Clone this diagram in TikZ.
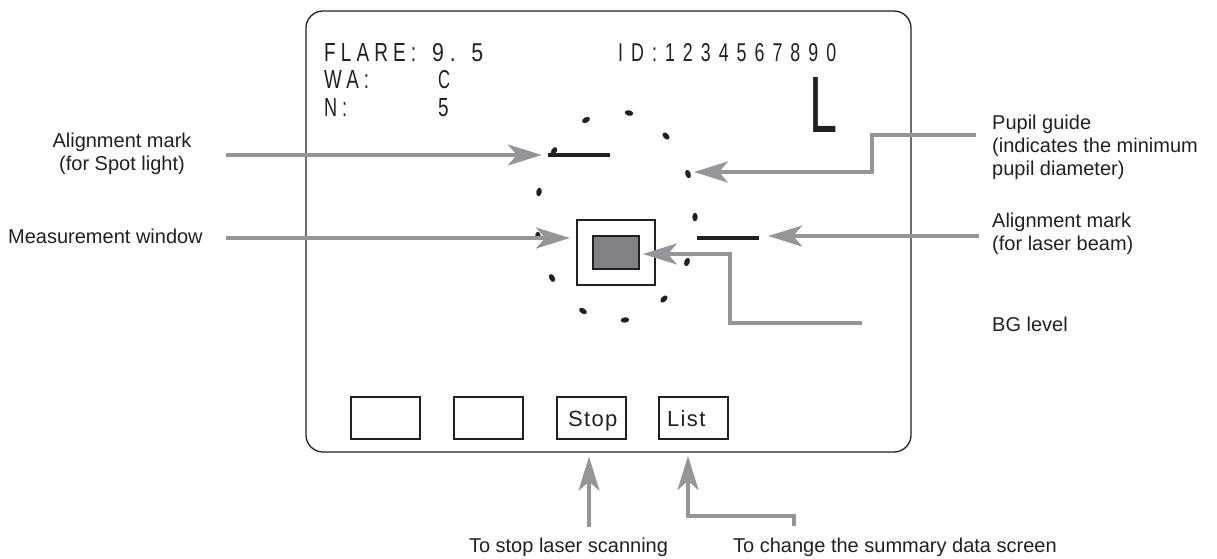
\documentclass[tikz,border=0pt]{standalone}
\usepackage{fontspec}
\setmainfont{Liberation Sans}
\newfontfamily\scrA[LetterSpace=27]{Liberation Sans}
\newfontfamily\scrB[LetterSpace=45]{Liberation Sans}
\newfontfamily\btnfont[LetterSpace=6]{Liberation Sans}
\usetikzlibrary{arrows.meta,calc}
\definecolor{arrowgray}{HTML}{939598}
\definecolor{ink}{HTML}{231F20}
\definecolor{wingray}{HTML}{808184}
\begin{document}
\begin{tikzpicture}[x=1pt,y=-1pt,
  callout/.style={draw=arrowgray, line width=3.6pt, -{Stealth[length=34pt,width=21pt,inset=9pt]}},
  lbl/.style={font=\fontsize{20}{23}\selectfont, text=ink, inner sep=0pt},
  scr/.style={inner sep=0pt, text=ink, anchor=base west},
  btn/.style={draw=ink, line width=2pt, minimum width=69pt, minimum height=42pt, inner sep=0pt},
  btntext/.style={font=\btnfont\fontsize{22}{22}\selectfont, text=ink, inner sep=0pt, anchor=base west},
  alignmark/.style={fill=ink, draw=none, minimum width=62pt, minimum height=3.5pt, inner sep=0pt}]
\useasboundingbox (0,0) rectangle (1217,558);
% screen frame
\node[draw=ink, line width=1.3pt, rounded corners=17pt, minimum width=605pt, minimum height=441pt, inner sep=0pt] (screen) at (608.5,231.5) {};
% screen texts
\node[scr] (flare) at (324,61) {\resizebox{92pt}{18pt}{\scrA FLARE:}};
\node[scr] (flarev) at (432,61) {\resizebox{51pt}{18pt}{\scrA 9. 5}};
\node[scr] (wa) at (324,88) {\resizebox{45pt}{18pt}{\scrA WA:}};
\node[scr] (wav) at (438,88) {\resizebox{12pt}{18pt}{\scrA C}};
\node[scr] (n) at (324,116) {\resizebox{23pt}{18pt}{\scrA N:}};
\node[scr] (nv) at (438,116) {\resizebox{10.5pt}{18pt}{\scrA 5}};
\node[scr] (id) at (618,61) {\resizebox{218pt}{18pt}{\scrB ID:1234567890}};
\node[scr] (eye) at (809,132) {\resizebox{28pt}{55pt}{L}};
% pupil guide dots
\foreach \px/\py [count=\i] in {586/120, 629/113, 666/136, 688/174, 554/151, 539/192, 695/217, 538/236, 687/262, 552/278, 664/299, 583/311, 625/320}{
  \pgfmathsetmacro\ang{atan2((\px-616.5)*1.733, (\py-216.5))}
  \coordinate (dot\i) at (\px,\py);
  \fill[ink, rotate around={\ang:(dot\i)}] (dot\i) ellipse [x radius=4.3pt, y radius=2.7pt];
}
% alignment marks
\node[alignmark] (spotmark) at (579,155) {};
\node[alignmark] (lasermark) at (728,238) {};
% measurement window
\node[draw=ink, line width=2pt, minimum width=78pt, minimum height=65pt, inner sep=0pt] (win) at (616,252.5) {};
\node[draw=ink, fill=wingray, line width=1.8pt, minimum width=46pt, minimum height=33pt, inner sep=0pt] (bg) at (616,252.5) {};
% buttons
\node[btn] (b1) at (385.5,418) {};
\node[btn] (b2) at (488,418) {};
\node[btn] (stopbtn) at (591.5,418) {};
\node[btn] (listbtn) at (693.5,418) {};
\node[btntext] (stoptxt) at (568,426) {Stop};
\node[btntext] (listtxt) at (667,426) {List};
% labels
\node[lbl, anchor=base] (la1) at (122,147) {Alignment mark};
\node[lbl, anchor=base] (la2) at (122,170) {(for Spot light)};
\node[lbl, anchor=base west] (lm) at (8,243) {Measurement window};
\node[lbl, anchor=base west] (lp1) at (992,129) {Pupil guide};
\node[lbl, anchor=base west] (lp2) at (992,152) {(indicates the minimum};
\node[lbl, anchor=base west] (lp3) at (992,175) {pupil diameter)};
\node[lbl, anchor=base west] (ll1) at (992,227) {Alignment mark};
\node[lbl, anchor=base west] (ll2) at (992,250) {(for laser beam)};
\node[lbl, anchor=base west] (lbg) at (992,331) {BG level};
\node[lbl, anchor=base] (lstop) at (568.5,552) {To stop laser scanning};
\node[lbl, anchor=base west] (llist) at (733,552) {To change the summary data screen};
% arrow tails
\coordinate (spotTail) at (226,155);
\coordinate (measTail) at (226,238);
\coordinate (pupilTail) at (976,135);
\coordinate (laserTail) at (979,236);
\coordinate (bgTail) at (862,323);
\coordinate (stopTail) at (589,527);
\coordinate (listTail) at (794,526);
% callout arrows
\draw[callout] (spotTail) -- ($(spotmark.west)+(-6,0)$);
\draw[callout] (measTail) -- ($(measTail -| win.west)+(-6,0)$);
\draw[callout] (pupilTail) -- (872,135) |- ($(dot4)+(6,-2)$);
\draw[callout] (laserTail) -- ($(laserTail -| lasermark.east)+(9,0)$);
\draw[callout] (bgTail) -- (730,323) |- ($(bg.east)+(3,1.5)$);
\draw[callout] (stopTail) -- ($(stopTail |- screen.south)+(0,4)$);
\draw[callout] (listTail) -- ++(0,-10) -| ($(688,452)+(0,4)$);
\end{tikzpicture}
\end{document}
